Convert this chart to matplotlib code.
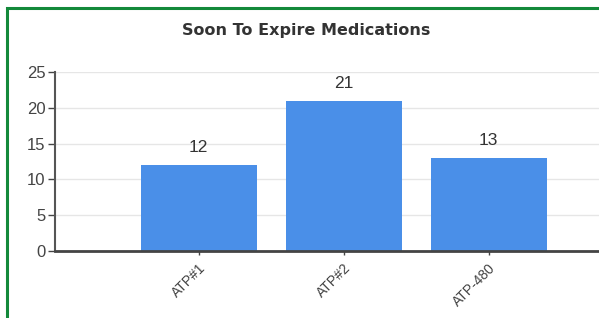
import matplotlib.pyplot as plt
from matplotlib.patches import Rectangle

categories = ["ATP#1", "ATP#2", "ATP-480"]
counts = [12, 21, 13]
y_ticks = [0, 5, 10, 15, 20, 25]

plt.rcParams['font.family'] = ['Liberation Sans', 'DejaVu Sans']

fig = plt.figure(figsize=(5.99, 3.18), dpi=100)
fig.patch.set_facecolor("white")

# green frame, only left and top edges visible in the crop
fig.patches.append(Rectangle((7 / 599, -0.2), 1.2, 1.2 - 8 / 318,
                             transform=fig.transFigure, fill=False,
                             edgecolor="#13893a", linewidth=2.2))

ax = fig.add_axes([55 / 599, 1 - 251 / 318, 1 - 55 / 599, (251 - 72) / 318])
x = list(range(len(categories)))
ax.bar(x, counts, width=0.8, color="#4a8fe8", zorder=2)

for xi, v in zip(x, counts):
    ax.annotate(str(v), (xi, v), xytext=(0, 7), textcoords="offset points",
                ha="center", va="bottom", fontsize=12.5, color="#333333")

ax.set_ylim(0, 25)
ax.set_xlim(-0.99, 2.76)
ax.set_yticks(y_ticks)
ax.yaxis.grid(True, color="#e6e6e6", linewidth=1, zorder=0)
ax.set_axisbelow(True)

ax.set_xticks(x)
ax.set_xticklabels(categories, rotation=45, ha="right", rotation_mode="anchor",
                   fontsize=10, color="#444444")
ax.tick_params(axis="y", labelsize=12, labelcolor="#444444", length=5,
               width=1, color="#444444", pad=2)
ax.tick_params(axis="x", length=3, width=1, color="#444444", pad=4)

for s in ["top", "right"]:
    ax.spines[s].set_visible(False)
ax.spines["left"].set_color("#555555")
ax.spines["left"].set_linewidth(1.5)
ax.spines["bottom"].set_color("#444444")
ax.spines["bottom"].set_linewidth(2)

fig.text(306 / 599, 1 - 31 / 318, "Soon To Expire Medications", ha="center",
         va="center", fontsize=11.5, fontweight="bold", color="#333333",
         family="DejaVu Sans")

fig.savefig("out.png", dpi=100)
